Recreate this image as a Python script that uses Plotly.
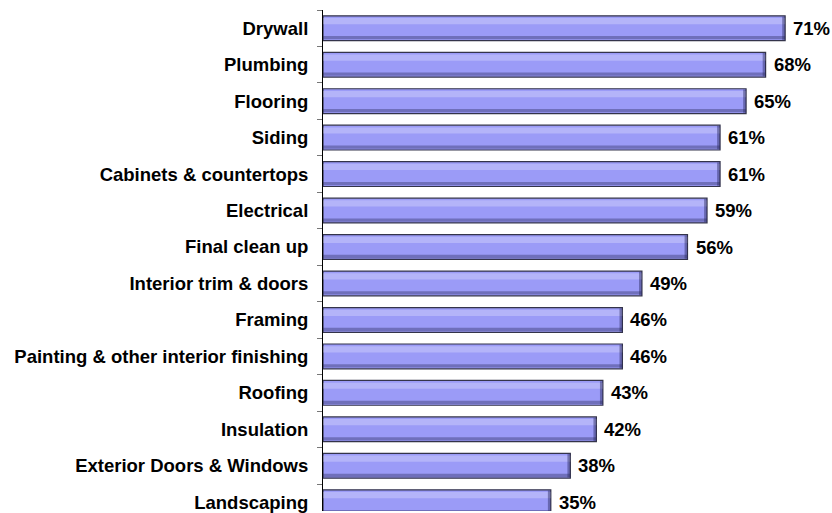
import plotly.graph_objects as go

# Share of builders reporting each trade (percent)
categories = [
    "Drywall", "Plumbing", "Flooring", "Siding", "Cabinets & countertops",
    "Electrical", "Final clean up", "Interior trim & doors", "Framing",
    "Painting & other interior finishing", "Roofing", "Insulation",
    "Exterior Doors & Windows", "Landscaping",
]
values = [71, 68, 65, 61, 61, 59, 56, 49, 46, 46, 43, 42, 38, 35]

BAR_W = 0.68
FONT = "Liberation Sans, Arial, sans-serif"
n = len(values)

fig = go.Figure()

# Main bar body with a dark edge
fig.add_trace(go.Bar(
    y=categories, x=values, orientation="h", width=BAR_W,
    marker=dict(color="#9b9bf7", line=dict(color="#34344a", width=1.2)),
    hoverinfo="skip",
))
# Lighter band along the upper part of each bar
fig.add_trace(go.Bar(
    y=categories, x=values, orientation="h", width=0.17, offset=-0.28,
    marker=dict(color="rgba(255,255,255,0.25)", line=dict(width=0)),
    hoverinfo="skip",
))
# Darker band along the lower edge
fig.add_trace(go.Bar(
    y=categories, x=values, orientation="h", width=0.09, offset=0.215,
    marker=dict(color="rgba(40,40,90,0.38)", line=dict(width=0)),
    hoverinfo="skip",
))
# Shaded strip at the right end of each bar
fig.add_trace(go.Bar(
    y=categories, x=[0.45] * n, base=[v - 0.45 for v in values],
    orientation="h", width=BAR_W - 0.04,
    marker=dict(color="rgba(40,40,90,0.45)", line=dict(width=0)),
    hoverinfo="skip",
))

# Percentage labels just past the end of each bar
for cat, v in zip(categories, values):
    fig.add_annotation(
        x=v, y=cat, text=f"<b>{v}%</b>", showarrow=False,
        xanchor="left", yanchor="middle", xshift=6,
        font=dict(family=FONT, size=18.5, color="#000000"),
    )

fig.update_layout(
    width=832, height=513,
    margin=dict(l=323, r=0, t=10, b=0),
    paper_bgcolor="white", plot_bgcolor="white",
    barmode="overlay", showlegend=False,
    font=dict(family=FONT, color="#000000"),
    xaxis=dict(range=[0, 78.2], visible=False, fixedrange=True),
    yaxis=dict(
        range=[13.24, -0.5], type="category",
        showline=True, linecolor="#000000", linewidth=1,
        ticks="outside", tickson="boundaries", ticklen=5,
        tickcolor="#777777", tickwidth=1,
        ticklabelstandoff=10,
        tickfont=dict(family=FONT, size=18.5, color="#000000", weight="bold"),
        showgrid=False, zeroline=False,
    ),
)

fig.write_html("out.html")
